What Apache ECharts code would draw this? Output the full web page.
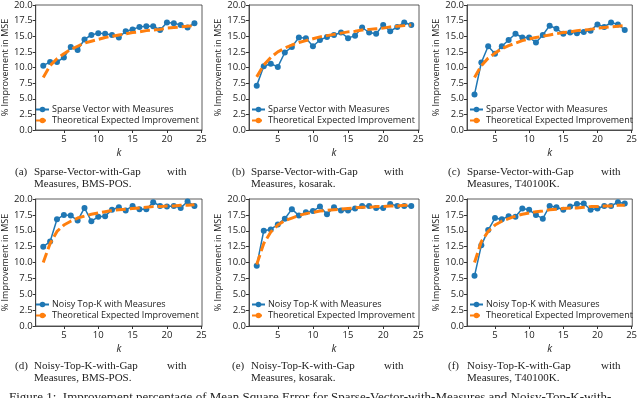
<!DOCTYPE html>
<html>
<head>
<meta charset="utf-8">
<script src="https://cdn.jsdelivr.net/npm/echarts@6/dist/echarts.min.js"></script>
<style>
  html, body { margin: 0; padding: 0; background: #fff; }
  #main { width: 640px; height: 398px; }
</style>
</head>
<body>
<div id="main"></div>
<script>
// k values shared by every panel
const ks = [2, 3, 4, 5, 6, 7, 8, 9, 10, 11, 12, 13, 14, 15, 16, 17, 18, 19, 20, 21, 22, 23, 24];

// measured improvement (%) per panel
const measA = [10.3, 10.9, 10.9, 11.6, 13.3, 12.8, 14.5, 15.2, 15.5, 15.4, 15.2, 14.8, 15.8, 16.1, 16.5, 16.6, 16.6, 16.0, 17.2, 17.1, 16.8, 16.4, 17.1];
const measB = [7.1, 10.2, 10.6, 10.1, 12.4, 13.3, 14.8, 14.7, 13.4, 14.4, 14.9, 15.2, 15.6, 14.7, 15.1, 16.4, 15.6, 15.4, 16.8, 15.8, 16.5, 17.2, 16.8];
const measC = [5.7, 10.8, 13.4, 12.2, 13.4, 14.4, 15.4, 14.8, 14.8, 14.0, 15.2, 16.7, 16.2, 15.4, 15.6, 15.5, 15.7, 15.9, 16.9, 16.5, 17.2, 16.9, 16.0];
const measD = [12.5, 13.3, 16.8, 17.5, 17.4, 16.6, 18.6, 16.5, 17.2, 17.3, 18.3, 18.7, 18.2, 18.9, 18.4, 18.4, 19.5, 18.9, 18.8, 18.9, 18.6, 19.6, 18.9];
const measE = [9.5, 15.0, 15.2, 16.0, 16.9, 18.4, 17.4, 17.9, 18.1, 18.8, 17.6, 18.7, 18.2, 18.2, 18.5, 18.9, 18.9, 18.6, 18.6, 19.2, 18.9, 18.9, 18.9];
const measF = [7.9, 12.7, 15.1, 17.0, 16.8, 17.3, 17.2, 18.5, 18.3, 17.5, 16.9, 18.9, 18.7, 18.3, 18.8, 19.2, 19.3, 18.3, 18.5, 18.9, 18.9, 19.5, 19.3];

// theoretical expected improvement (%) per panel
const theoA = [8.4, 10.3, 11.4, 12.2, 12.9, 13.4, 13.9, 14.2, 14.5, 14.8, 15.0, 15.2, 15.4, 15.6, 15.7, 15.9, 16.0, 16.1, 16.3, 16.4, 16.5, 16.6, 16.7];
const theoB = [8.5, 10.4, 11.6, 12.5, 13.1, 13.6, 14.0, 14.3, 14.6, 14.9, 15.1, 15.3, 15.5, 15.7, 15.8, 16.0, 16.1, 16.2, 16.3, 16.5, 16.6, 16.7, 16.8];
const theoC = [8.4, 10.3, 11.5, 12.3, 13.0, 13.5, 13.9, 14.3, 14.6, 14.8, 15.0, 15.2, 15.4, 15.6, 15.7, 15.9, 16.0, 16.1, 16.3, 16.4, 16.5, 16.6, 16.7];
const theoD = [10.0, 13.0, 14.9, 15.9, 16.5, 17.0, 17.3, 17.6, 17.8, 18.0, 18.2, 18.3, 18.4, 18.5, 18.6, 18.7, 18.8, 18.8, 18.9, 18.9, 19.0, 19.0, 19.1];
const theoE = [9.7, 13.0, 14.8, 15.9, 16.6, 17.0, 17.4, 17.7, 17.9, 18.1, 18.2, 18.3, 18.4, 18.5, 18.6, 18.7, 18.7, 18.8, 18.8, 18.9, 18.9, 19.0, 19.0];
const theoF = [10.0, 13.3, 14.9, 15.9, 16.5, 16.9, 17.3, 17.6, 17.8, 18.0, 18.1, 18.3, 18.4, 18.5, 18.6, 18.6, 18.7, 18.8, 18.8, 18.9, 18.9, 19.0, 19.0];

const xTicks = [5, 10, 15, 20, 25];
const yTicks = [0, 2.5, 5, 7.5, 10, 12.5, 15, 17.5, 20];

const seriesNames = ['Sparse Vector with Measures', 'Noisy Top-K with Measures'];
const theoName = 'Theoretical Expected Improvement';

const captions = [
  ['(a)', 'Sparse-Vector-with-Gap', 'Measures, BMS-POS.'],
  ['(b)', 'Sparse-Vector-with-Gap', 'Measures, kosarak.'],
  ['(c)', 'Sparse-Vector-with-Gap', 'Measures, T40100K.'],
  ['(d)', 'Noisy-Top-K-with-Gap', 'Measures, BMS-POS.'],
  ['(e)', 'Noisy-Top-K-with-Gap', 'Measures, kosarak.'],
  ['(f)', 'Noisy-Top-K-with-Gap', 'Measures, T40100K.']
];
const figCaption = 'Figure 1:  Improvement percentage of Mean Square Error for Sparse-Vector-with-Measures and Noisy-Top-K-with-';

const measured = [measA, measB, measC, measD, measE, measF];
const theory = [theoA, theoB, theoC, theoD, theoE, theoF];

// panel layout
const cols = [{ left: 33, width: 169 }, { left: 249, width: 170 }, { left: 467, width: 168 }];
const rows = [{ top: 4, height: 126 }, { top: 199, height: 127 }];
// caption x positions: label, text, "with"
const capCols = [{ x: 15, t: 34, w: 167 }, { x: 232, t: 251, w: 384 }, { x: 448, t: 467, w: 601 }];
const capRows = [167, 361];

const sans = '"Open Sans", sans-serif';
const serif = '"Liberation Serif", "DejaVu Serif", serif';

const grids = [], xAxes = [], yAxes = [], series = [], legends = [], graphics = [];

for (let i = 0; i < 6; i++) {
  const c = cols[i % 3], r = rows[Math.floor(i / 3)];
  const measName = seriesNames[i < 3 ? 0 : 1];

  grids.push({
    left: c.left, top: r.top, width: c.width, height: r.height,
    show: true, borderColor: '#333', borderWidth: 0.8, backgroundColor: 'transparent'
  });

  xAxes.push({
    type: 'value', gridIndex: i, min: 0.9, max: 25.1,
    name: 'k', nameLocation: 'middle', nameGap: 18,
    nameTextStyle: { fontFamily: sans, fontSize: 10, fontStyle: 'italic', color: '#222' },
    axisLine: { show: true, lineStyle: { color: '#333', width: 0.8 } },
    axisTick: { show: true, length: 3, customValues: xTicks, lineStyle: { color: '#333' } },
    axisLabel: { customValues: xTicks, fontFamily: sans, fontSize: 9.5, color: '#222', margin: 4 },
    splitLine: { show: false }
  });

  yAxes.push({
    type: 'value', gridIndex: i, min: 0, max: 20,
    name: '% Improvement in MSE', nameLocation: 'middle', nameGap: 24,
    nameTextStyle: { fontFamily: sans, fontSize: 9, color: '#222' },
    axisLine: { show: true, lineStyle: { color: '#333', width: 0.8 } },
    axisTick: { show: true, length: 3, customValues: yTicks, lineStyle: { color: '#333' } },
    axisLabel: {
      customValues: yTicks, fontFamily: sans, fontSize: 9.5, color: '#222', margin: 3,
      formatter: v => v.toFixed(1)
    },
    splitLine: { show: false }
  });

  series.push({
    name: measName, type: 'line', xAxisIndex: i, yAxisIndex: i,
    data: ks.map((k, j) => [k, measured[i][j]]),
    symbol: 'circle', symbolSize: 6, showSymbol: true,
    lineStyle: { color: '#1f77b4', width: 1.5 },
    itemStyle: { color: '#1f77b4' },
    z: 2, animation: false
  });
  series.push({
    name: theoName, type: 'line', xAxisIndex: i, yAxisIndex: i,
    data: ks.map((k, j) => [k, theory[i][j]]),
    symbol: 'none',
    lineStyle: { color: '#ff7f0e', width: 3, type: [10, 4] },
    itemStyle: { color: '#ff7f0e' },
    z: 3, animation: false
  });

  legends.push({
    data: [measName, theoName],
    orient: 'vertical', left: c.left + 2, top: r.top + 101,
    itemWidth: 13, itemHeight: 7, itemGap: 2,
    textStyle: { fontFamily: sans, fontSize: 9, color: '#222', padding: [0, 0, 0, -2] },
    padding: 0, selectedMode: false
  });

  // sub-figure captions
  const cc = capCols[i % 3];
  const capTop = capRows[Math.floor(i / 3)];
  const capFont = '11px ' + serif;
  graphics.push({ type: 'text', left: cc.x, top: capTop,
    style: { text: captions[i][0], font: capFont, fill: '#222' } });
  graphics.push({ type: 'text', left: cc.t, top: capTop,
    style: { text: captions[i][1], font: capFont, fill: '#222' } });
  graphics.push({ type: 'text', left: cc.w, top: capTop,
    style: { text: 'with', font: capFont, fill: '#222' } });
  graphics.push({ type: 'text', left: cc.t, top: capTop + 12,
    style: { text: captions[i][2], font: capFont, fill: '#222' } });
}

graphics.push({ type: 'text', left: 9, top: 391,
  style: { text: figCaption, font: '13px ' + serif, fill: '#222' } });

const myChart = echarts.init(document.getElementById('main'));
myChart.setOption({
  animation: false,
  grid: grids,
  xAxis: xAxes,
  yAxis: yAxes,
  legend: legends,
  series: series,
  graphic: graphics
});
</script>
</body>
</html>
